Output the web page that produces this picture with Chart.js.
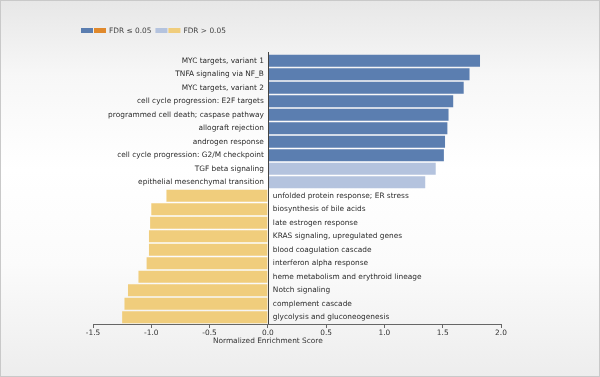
<!DOCTYPE html>
<html>
<head>
<meta charset="utf-8">
<script src="https://cdn.jsdelivr.net/npm/chart.js@4/dist/chart.umd.min.js"></script>
<style>
  html, body { margin: 0; padding: 0; }
  body {
    width: 600px; height: 377px; box-sizing: border-box;
    border: 1px solid #c9c9c9;
    background: linear-gradient(#e7e7e7 0%, #f7f7f7 20%, #ffffff 45%, #fbfbfb 70%, #ededed 100%);
    overflow: hidden;
  }
  #wrap { position: absolute; left: 0; top: 0; width: 600px; height: 377px; }
</style>
</head>
<body>
<div id="wrap"><canvas id="nesChart" width="600" height="377"></canvas></div>
<script>
const categories = [
  'MYC targets, variant 1',
  'TNFA signaling via NF_B',
  'MYC targets, variant 2',
  'cell cycle progression: E2F targets',
  'programmed cell death; caspase pathway',
  'allograft rejection',
  'androgen response',
  'cell cycle progression: G2/M checkpoint',
  'TGF beta signaling',
  'epithelial mesenchymal transition',
  'unfolded protein response; ER stress',
  'biosynthesis of bile acids',
  'late estrogen response',
  'KRAS signaling, upregulated genes',
  'blood coagulation cascade',
  'interferon alpha response',
  'heme metabolism and erythroid lineage',
  'Notch signaling',
  'complement cascade',
  'glycolysis and gluconeogenesis'
];
const nes = [1.82, 1.73, 1.68, 1.59, 1.55, 1.54, 1.52, 1.51, 1.44, 1.35,
  -0.87, -1.00, -1.01, -1.02, -1.02, -1.04, -1.11, -1.20, -1.23, -1.25];
const significant = [true, true, true, true, true, true, true, true, false, false,
  false, false, false, false, false, false, false, false, false, false];
const xTicks = [-1.5, -1.0, -0.5, 0.0, 0.5, 1.0, 1.5, 2.0];
const axisTitle = 'Normalized Enrichment Score';

const colUpSig = '#5b7eb0', colDownSig = '#e0892c';
const colUpNs = '#b4c3de', colDownNs = '#f0cd7c';
const fontFamily = '"DejaVu Sans", Verdana, sans-serif';
const fontSize = 7.4;

function barColor(i) {
  if (nes[i] >= 0) return significant[i] ? colUpSig : colUpNs;
  return significant[i] ? colDownSig : colDownNs;
}

const pathwayLabels = {
  id: 'pathwayLabels',
  afterDatasetsDraw(chart) {
    const ctx = chart.ctx;
    const x = chart.scales.x, y = chart.scales.y;
    const x0 = x.getPixelForValue(0);
    ctx.save();
    ctx.font = fontSize + 'px ' + fontFamily;
    ctx.fillStyle = '#2b2b2b';
    ctx.textBaseline = 'middle';
    categories.forEach((c, i) => {
      const py = y.getPixelForValue(i);
      if (nes[i] >= 0) {
        ctx.textAlign = 'right';
        ctx.fillText(c, x0 - 4, py);
      } else {
        ctx.textAlign = 'left';
        ctx.fillText(c, x0 + 5, py);
      }
    });
    // zero line, a bit above the plot like the original
    ctx.strokeStyle = '#444';
    ctx.lineWidth = 1;
    ctx.beginPath();
    ctx.moveTo(Math.round(x0) + 0.5, chart.chartArea.top - 2);
    ctx.lineTo(Math.round(x0) + 0.5, chart.chartArea.bottom);
    ctx.stroke();
    // axis title sits under the zero point
    ctx.textAlign = 'center';
    ctx.fillStyle = '#333';
    ctx.fillText(axisTitle, x0, 341);
    ctx.restore();
  }
};

const fdrLegend = {
  id: 'fdrLegend',
  afterDraw(chart) {
    const ctx = chart.ctx;
    ctx.save();
    ctx.font = fontSize + 'px ' + fontFamily;
    ctx.textBaseline = 'middle';
    ctx.textAlign = 'left';
    const items = [
      { colors: [colUpSig, colDownSig], text: 'FDR \u2264 0.05' },
      { colors: [colUpNs, colDownNs], text: 'FDR > 0.05' }
    ];
    let px = 81;
    const top = 28, h = 5, w = 12;
    items.forEach(it => {
      it.colors.forEach(c => {
        ctx.fillStyle = c;
        ctx.fillRect(px, top, w, h);
        px += w + 1;
      });
      px += 2;
      ctx.fillStyle = '#444';
      ctx.fillText(it.text, px, top + h / 2 + 0.5);
      px += ctx.measureText(it.text).width + 4;
    });
    ctx.restore();
  }
};

new Chart(document.getElementById('nesChart'), {
  type: 'bar',
  data: {
    labels: categories,
    datasets: [{
      data: nes,
      backgroundColor: nes.map((v, i) => barColor(i)),
      borderWidth: 0,
      barPercentage: 0.88,
      categoryPercentage: 1.0
    }]
  },
  options: {
    indexAxis: 'y',
    responsive: false,
    animation: false,
    layout: { padding: { left: 93, right: 99, top: 54, bottom: 0 } },
    plugins: {
      legend: { display: false },
      tooltip: { enabled: false }
    },
    scales: {
      y: { display: false },
      x: {
        min: -1.5,
        max: 2.0,
        afterBuildTicks(scale) { scale.ticks = xTicks.map(v => ({ value: v })); },
        afterFit(scale) { scale.height = 53; },
        grid: {
          color: 'transparent',
          tickColor: '#666',
          tickLength: 4,
          drawOnChartArea: false
        },
        border: { display: true, color: '#666', width: 1 },
        ticks: {
          padding: 1,
          color: '#333',
          font: { family: fontFamily, size: fontSize },
          callback: v => v.toFixed(1)
        },
        title: { display: false }
      }
    }
  },
  plugins: [pathwayLabels, fdrLegend]
});
</script>
</body>
</html>
